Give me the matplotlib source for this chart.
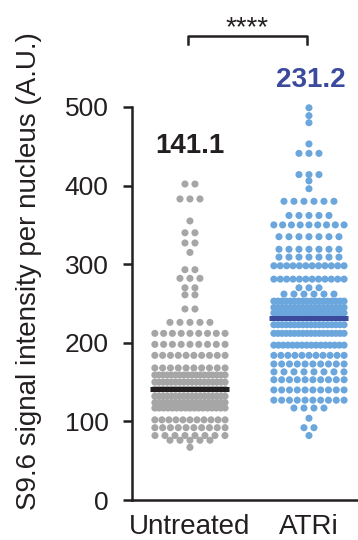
import numpy as np
import matplotlib.pyplot as plt

#----Data----

groups = ["Untreated", "ATRi"]
means = [141.1, 231.2]

# each row of the dot plot: value and number of nuclei in that row
untreated_vals = [402, 383, 355, 340, 327, 315, 293, 282, 270, 261, 243, 226, 212, 198,
                  184, 168, 159, 150, 141, 132, 124, 117, 102, 92, 82, 76, 67]
untreated_n = [2, 3, 1, 2, 2, 1, 2, 3, 2, 2, 2, 5, 9, 9,
               10, 10, 18, 18, 18, 18, 18, 17, 11, 10, 8, 5, 1]

atri_vals = [499, 489, 480, 453, 441, 414, 406, 396, 380, 362, 350, 335, 319, 309,
             298, 281, 270, 262, 253, 245, 238, 223, 212, 197, 184, 173, 163,
             153, 140, 127, 117, 104, 92, 82]
atri_n = [1, 1, 1, 1, 3, 3, 1, 1, 6, 5, 9, 7, 7, 7,
          12, 12, 3, 6, 18, 18, 18, 18, 18, 16, 11, 10, 8,
          10, 10, 10, 4, 1, 2, 1]

dot_colors = ["#a6a6a6", "#6ba6dc"]
mean_colors = ["#231f20", "#3c4a9e"]
label_colors = ["#231f20", "#3c4a9e"]

#----Figure----

plt.rcParams["font.family"] = ["Liberation Sans", "DejaVu Sans"]
fig = plt.figure(figsize=(3.58, 5.40), dpi=100)
ax = fig.add_axes([132 / 358, 40 / 540, 226 / 358, 393 / 540])

def row_offsets(n, max_step=0.084, max_width=0.59):
    if n == 1:
        return np.zeros(1)
    step = min(max_step, max_width / (n - 1))
    return (np.arange(n) - (n - 1) / 2) * step

rows = [(untreated_vals, untreated_n), (atri_vals, atri_n)]
for i, (vals, counts) in enumerate(rows):
    xs, ys = [], []
    for v, n in zip(vals, counts):
        xs.extend(i + row_offsets(n))
        ys.extend([v] * n)
    ax.scatter(xs, ys, s=26, color=dot_colors[i], edgecolors="none",
               zorder=2, clip_on=False)
    ax.plot([i - 0.332, i + 0.332], [means[i], means[i]], color=mean_colors[i],
            linewidth=3.6, solid_capstyle="butt", zorder=3)
    ax.text(i + (0.017 if i == 1 else 0), [442, 525][i], f"{means[i]:.1f}",
            ha="center", va="baseline", fontsize=20, fontweight="bold",
            color=label_colors[i], clip_on=False)

#----Significance bracket----

ax.plot([-0.017, -0.017, 0.983, 0.983], [580, 590, 590, 580], color="#231f20",
        linewidth=1.8, clip_on=False)
ax.text(0.483, 591, "****", ha="center", va="baseline", fontsize=20,
        color="#231f20", clip_on=False)

#----Axes----

ax.set_xlim(-0.487, 1.412)
ax.set_ylim(0, 500)
ax.set_yticks([0, 100, 200, 300, 400, 500])
ax.set_xticks([0, 1])
ax.set_xticklabels(groups)
ax.spines["top"].set_visible(False)
ax.spines["right"].set_visible(False)
for side in ["left", "bottom"]:
    ax.spines[side].set_linewidth(1.8)
    ax.spines[side].set_color("#231f20")
ax.tick_params(axis="y", length=6.5, width=1.8, pad=10.5, labelsize=19,
               colors="#231f20")
ax.tick_params(axis="x", length=0, pad=10, labelsize=20, colors="#231f20")

fig.text(0.08, 0.498, "S9.6 signal intensity per nucleus (A.U.)", rotation=90,
         ha="center", va="center", fontsize=20, color="#231f20")

fig.savefig("out.png", dpi=100)
